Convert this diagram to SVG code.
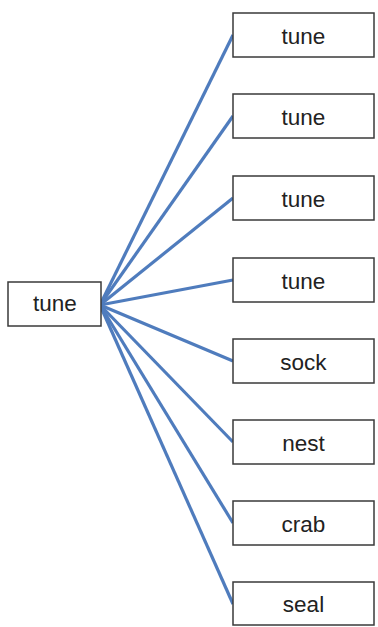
<svg xmlns="http://www.w3.org/2000/svg" width="378" height="627" viewBox="0 0 378 627">
<style>
.box{fill:#fff;stroke:#3a3a3a;stroke-width:1.5}
.lbl{font-family:"Liberation Sans",Arial,sans-serif;font-size:22.5px;fill:#222;text-anchor:middle}
.c{stroke:#4f7cbd;stroke-width:3.2;fill:none}
</style>
<rect width="378" height="627" fill="#fff"/>
<g id="connectors">
<line class="c" x1="100" y1="305" x2="233" y2="35"/>
<line class="c" x1="100" y1="305" x2="233" y2="116"/>
<line class="c" x1="100" y1="305" x2="233" y2="198"/>
<line class="c" x1="100" y1="305" x2="233" y2="280"/>
<line class="c" x1="100" y1="305" x2="233" y2="361"/>
<line class="c" x1="100" y1="305" x2="233" y2="442"/>
<line class="c" x1="100" y1="305" x2="233" y2="523"/>
<line class="c" x1="100" y1="305" x2="233" y2="604"/>
</g>
<g id="root"><rect class="box" x="8" y="282" width="93" height="44"/><text class="lbl" x="55" y="311">tune</text></g>
<g id="n1"><rect class="box" x="233" y="13" width="141" height="44"/><text class="lbl" x="303.5" y="44">tune</text></g>
<g id="n2"><rect class="box" x="233" y="94" width="141" height="44"/><text class="lbl" x="303.5" y="125">tune</text></g>
<g id="n3"><rect class="box" x="233" y="176" width="141" height="44"/><text class="lbl" x="303.5" y="207">tune</text></g>
<g id="n4"><rect class="box" x="233" y="258" width="141" height="44"/><text class="lbl" x="303.5" y="289">tune</text></g>
<g id="n5"><rect class="box" x="233" y="339" width="141" height="44"/><text class="lbl" x="303.5" y="370">sock</text></g>
<g id="n6"><rect class="box" x="233" y="420" width="141" height="44"/><text class="lbl" x="303.5" y="451">nest</text></g>
<g id="n7"><rect class="box" x="233" y="501" width="141" height="44"/><text class="lbl" x="303.5" y="532">crab</text></g>
<g id="n8"><rect class="box" x="233" y="582" width="141" height="43"/><text class="lbl" x="303.5" y="612">seal</text></g>
</svg>
